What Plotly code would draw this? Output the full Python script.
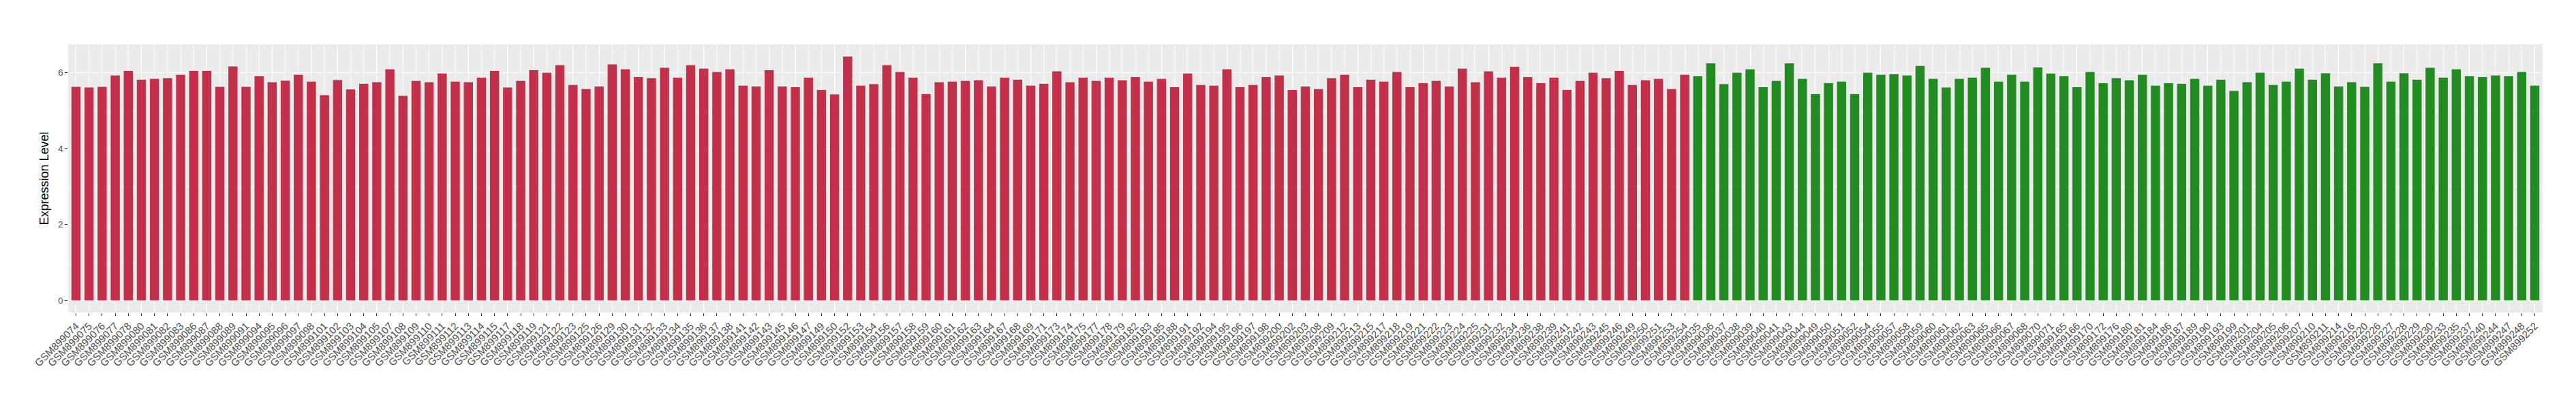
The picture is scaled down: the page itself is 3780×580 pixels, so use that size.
import plotly.graph_objects as go

red_ids = [
    "074","075","076","077","078","080","081","082","083","086","087","088","089",
    "091","094","095","096","097","098","101","102","103","104","105","107","108",
    "109","110","111","112","113","114","115","117","118","119","121","122","123",
    "125","126","129","130","131","132","133","134","135","136","137","138","141",
    "142","143","145","146","147","149","150","152","153","154","156",
    "157","158","159","160","161","162","163","164","167","168","169","171","173",
    "174","175","177","178","179","182","183","185","188","191","192","194","195",
    "196","197","198","200","202","203","208","209","212","213",
    "215","217","218","219","221","222","223","224","225","231","232","234","236",
    "238","239","241","242","243","245","246","249","250","251","253","254",
]
green_ids = [
    "035","036","037","038","039","040","041","043","044","049","050","051","052",
    "054","055","057","058","059","060","061","062","063","065","066","067","068",
    "070","071",
    "165","166","170","172","176","180","181","184","186","187","189","190","193",
    "199","201","204","205","206","207","210","211","214","216","220","226","227",
    "228","229","230","233","235","237","240","244","247","248","252",
]
samples = ["GSM899" + s for s in red_ids + green_ids]
groups = ["red"] * len(red_ids) + ["green"] * len(green_ids)

red_values = [
    5.63, 5.61, 5.63, 5.93, 6.05, 5.82, 5.84, 5.86, 5.95, 6.05, 6.05, 5.63, 6.17,
    5.63, 5.91, 5.75, 5.79, 5.95, 5.77, 5.41, 5.81, 5.56, 5.71, 5.75, 6.09, 5.39,
    5.785, 5.75, 5.98, 5.77, 5.75, 5.87, 6.05, 5.61, 5.785, 6.07, 6.00, 6.20, 5.68,
    5.57, 5.64, 6.22, 6.09, 5.89, 5.86, 6.13, 5.87, 6.20, 6.11, 6.02, 6.09, 5.66,
    5.64, 6.07, 5.64, 5.62, 5.87, 5.55, 5.43, 6.43, 5.66, 5.70, 6.20,
    6.02, 5.87, 5.44, 5.75, 5.77, 5.785, 5.80, 5.64, 5.87, 5.82, 5.66, 5.71, 6.04,
    5.75, 5.87, 5.785, 5.87, 5.80, 5.89, 5.77, 5.84, 5.62, 5.98, 5.68, 5.66, 6.09,
    5.62, 5.68, 5.89, 5.93, 5.55, 5.64, 5.57, 5.86, 5.95, 5.62,
    5.82, 5.77, 6.02, 5.62, 5.73, 5.785, 5.64, 6.11, 5.75, 6.04, 5.87, 6.16, 5.89,
    5.73, 5.87, 5.55, 5.785, 6.00, 5.86, 6.05, 5.68, 5.80, 5.84, 5.57, 5.95,
]
green_values = [
    5.91, 6.25, 5.70, 6.00, 6.09, 5.62, 5.785, 6.25, 5.84, 5.44, 5.73, 5.77, 5.44,
    6.00, 5.95, 5.96, 5.93, 6.18, 5.84, 5.61, 5.84, 5.87, 6.13, 5.77, 5.95, 5.77,
    6.14, 5.98,
    5.91, 5.62, 6.02, 5.73, 5.86, 5.80, 5.95, 5.66, 5.73, 5.71, 5.84, 5.66, 5.82,
    5.52, 5.75, 6.00, 5.68, 5.77, 6.11, 5.82, 5.99, 5.64, 5.75, 5.63, 6.25, 5.77,
    5.99, 5.82, 6.13, 5.87, 6.09, 5.91, 5.89, 5.93, 5.91, 6.02, 5.66,
]
values = red_values + green_values

colors = {"red": "#C3304A", "green": "#228B22"}
bar_colors = [colors[g] for g in groups]

ymax = max(values)
n = len(samples)

fig = go.Figure(go.Bar(
    x=samples, y=values, marker_color=bar_colors, marker_line_width=0,
))

font_family = "Liberation Sans, Arial, Helvetica, sans-serif"
fig.update_layout(
    width=3780, height=580,
    margin=dict(l=92, r=57, t=57, b=129, autoexpand=False),
    paper_bgcolor="white", plot_bgcolor="#EBEBEB",
    bargap=0.3, showlegend=False,
    font=dict(family=font_family, color="#4D4D4D"),
)
fig.update_xaxes(
    type="category", range=[-0.6, n - 1 + 0.6],
    showgrid=True, gridcolor="white", gridwidth=1.1,
    ticks="outside", ticklen=4, tickcolor="#333333", tickwidth=1,
    tickangle=-45, tickfont=dict(size=15, color="#4D4D4D", family=font_family),
    showline=False, zeroline=False, automargin=False,
)
fig.update_yaxes(
    range=[-0.05 * ymax, 1.05 * ymax],
    tickvals=[0, 2, 4, 6], ticktext=["0", "2", "4", "6"],
    showgrid=True, gridcolor="white", gridwidth=1.1,
    minor=dict(dtick=1, tick0=0, showgrid=True, gridcolor="white", gridwidth=0.6, ticks=""),
    ticks="outside", ticklen=4, tickcolor="#333333", tickwidth=1,
    tickfont=dict(size=13, color="#4D4D4D", family=font_family),
    title=dict(text="Expression Level", font=dict(size=18, color="black", family=font_family), standoff=8),
    showline=False, zeroline=False, automargin=False,
)

fig.write_html("out.html")
